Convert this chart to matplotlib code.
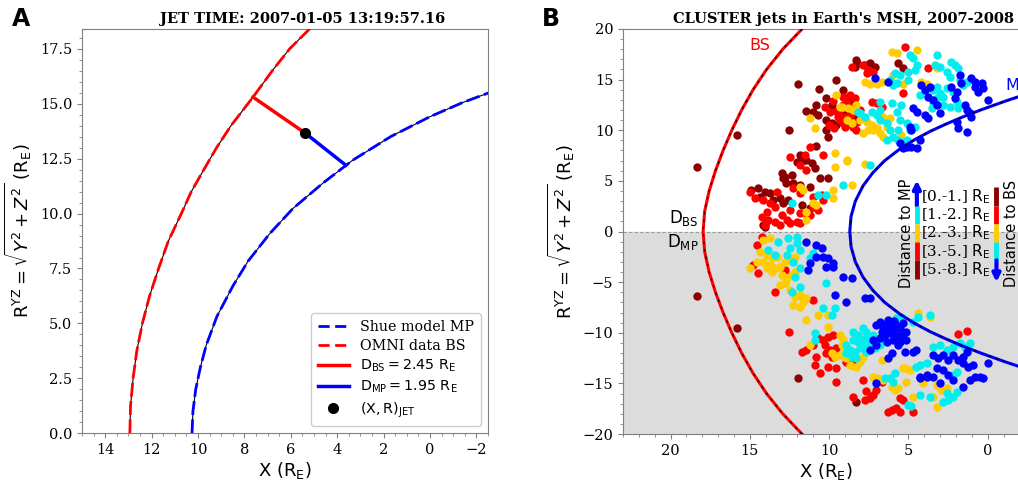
import numpy as np
import matplotlib
matplotlib.use('Agg')
from matplotlib import pyplot as plt
from matplotlib.ticker import MultipleLocator, AutoMinorLocator
from matplotlib.lines import Line2D

plt.rcParams['font.family'] = 'DejaVu Serif'
plt.rcParams['mathtext.fontset'] = 'dejavusans'

# ---------------- Panel A : single jet ----------------
jet_title = 'JET TIME: 2007-01-05 13:19:57.16'
d_bs = 2.45
d_mp = 1.95
jet_xr = (5.38, 13.66)
bs_foot = (7.63, 15.3)
mp_foot = (3.63, 12.2)

# bow shock (OMNI) and magnetopause (Shue) in the X-R plane
bs_a_x = [12.94, 12.91, 12.80, 12.64, 12.40, 12.09, 11.70, 11.28, 10.72, 10.29, 9.75, 9.20, 8.58,
          7.63, 6.80, 6.05, 5.10, 4.20]
bs_a_r = [0.0, 1.25, 2.5, 3.75, 5.0, 6.25, 7.5, 8.75, 10.0, 11.0, 12.0, 13.0, 14.0,
          15.3, 16.5, 17.5, 18.5, 19.5]
mp_a_x = [10.26, 10.22, 10.10, 9.90, 9.65, 9.19, 8.50, 7.84, 6.90, 5.91, 4.60, 3.33, 1.70, 0.0,
          -1.40, -2.75, -3.2]
mp_a_r = [0.0, 1.0, 2.0, 3.0, 4.0, 5.31, 6.70, 7.84, 9.10, 10.23, 11.40, 12.43, 13.50, 14.41,
          15.05, 15.58, 15.75]

# ---------------- Panel B : statistics ----------------
stat_title = "CLUSTER jets in Earth's MSH, 2007-2008"
bins = ['[0.-1.]', '[1.-2.]', '[2.-3.]', '[3.-5.]', '[5.-8.]']
bin_colors = ['#0000ff', '#00eeee', '#ffcc00', '#ff0000', '#8b0000']

bs_b_r = [0, 2, 4, 6, 8, 10, 12, 14, 16, 18, 20, 22]
bs_b_x = [17.95, 17.85, 17.57, 17.17, 16.69, 16.14, 15.52, 14.80, 13.95, 12.93, 11.71, 10.30]
mp_b_r = [0, 1.5, 3.0, 4.5, 5.8, 7.0, 8.2, 9.1, 9.9, 10.6, 11.3, 12.0, 12.9, 13.6, 14.2]
mp_b_x = [8.7, 8.62, 8.35, 7.87, 7.25, 6.50, 5.50, 4.58, 3.62, 2.65, 1.60, 0.45, -1.15, -2.50, -3.75]

jets_0_1 = [(7.12,15.13),(6.28,14.8),(4.18,14.47),(3.97,13.98),(3.65,14.3),(3.76,13.32),(3.44,12.99),
    (3.23,12.5),(3.02,11.67),(3.97,11.51),(3.76,11.18),(4.7,12.17),(4.49,11.84),(2.29,14.3),(1.97,13.81),
    (2.08,13.15),(1.76,15.45),(1.66,14.63),(1.03,15.13),(0.82,14.3),(0.82,14.8),(0.61,13.81),(0.39,14.63),
    (0.29,14.14),(1.45,12.5),(1.34,12.0),(1.13,11.67),(1.03,11.35),(1.97,10.85),(1.34,9.87),(1.87,10.2),
    (-0.02,12.99),(4.91,10.36),(4.81,10.03),(5.54,8.71),(5.12,8.39),(4.81,8.39),(4.49,8.22),(5.33,8.22),
    (4.28,9.04),
    (11.43,-1.0),(10.8,-1.33),(10.48,-1.66),(10.8,-2.48),(10.38,-2.48),(10.06,-2.65),(9.75,-3.14),
    (9.75,-3.47),(11.32,-3.8),(11.22,-3.14),(10.17,-3.47),(9.12,-4.46),(8.59,-4.62),(9.64,-6.27),
    (8.91,-6.92),(7.75,-6.6),(7.44,-6.6),(6.8,-8.9),(6.49,-9.23),(6.28,-8.73),(6.07,-9.06),(5.97,-9.55),
    (5.76,-9.23),(5.55,-9.55),(5.34,-9.06),(5.13,-9.88),(5.65,-10.21),(6.18,-10.05),(6.49,-10.21),
    (6.7,-9.88),(7.02,-9.23),(6.8,-10.54),(6.38,-10.87),(5.97,-10.71),(5.55,-10.87),(5.13,-10.71),
    (4.71,-11.86),(4.5,-11.69),(5.23,-11.86),(7.23,-10.71),(7.02,-11.2),(7.44,-11.69),(6.28,-12.52),
    (6.07,-12.02),(5.65,-11.2),(6.0,-9.8),(5.8,-10.4),(6.3,-9.5),(5.4,-10.3),(6.6,-9.5),(5.9,-8.8),
    (7.02,-14.98),(4.28,-14.32),(3.86,-14.16),(3.44,-12.19),(3.13,-12.52),(2.81,-12.19),(2.5,-12.69),
    (2.18,-12.19),(1.87,-12.69),(1.55,-12.36),(1.34,-11.86),(1.55,-13.01),(1.24,-13.34),(0.92,-13.18),
    (0.5,-14.33),(0.29,-14.5),(0.82,-14.33),(1.13,-14.66),(1.55,-15.32),(2.18,-14.66),(2.5,-14.17),
    (2.81,-13.67),(3.23,-13.51),(3.44,-14.33),(3.86,-14.33),(4.28,-14.5),(3.02,-14.99),(-0.02,-12.95)]

jets_1_2 = [(9.12,4.6),(10.7,3.61),(10.17,3.61),(12.37,2.79),(8.17,11.84),
    (4.91,17.43),(4.7,17.1),(4.49,16.44),(4.6,15.95),(5.02,15.79),(3.23,17.43),(3.34,16.44),(3.02,16.28),
    (2.6,15.79),(2.39,15.3),(2.29,16.77),(2.08,16.44),(1.87,16.11),(5.86,15.62),(5.54,15.45),(6.17,14.96),
    (5.96,14.47),(5.75,14.63),(5.02,14.96),(4.28,13.48),(3.65,14.14),(3.44,13.98),(3.23,14.3),(3.02,13.65),
    (2.81,13.32),(3.23,13.15),(3.44,12.82),(2.6,14.14),(2.18,13.81),(1.97,12.82),(2.81,12.5),(2.39,12.33),
    (1.87,12.17),(3.54,12.17),(1.76,14.96),(1.55,14.47),(1.34,14.8),(8.06,11.67),(7.75,11.35),(7.33,11.84),
    (7.01,11.51),(6.8,11.02),(6.38,10.69),(6.17,10.03),(5.96,9.37),(5.65,9.04),(5.33,8.88),(6.38,9.04),
    (6.8,12.0),(5.75,11.84),(5.54,11.02),(5.12,10.69),(4.91,10.03),(4.6,10.36),(5.44,12.5),(6.07,12.66),
    (6.8,12.82),(5.65,10.03),(5.12,9.04),(7.43,6.57),
    (13.21,-1.0),(12.58,-0.67),(12.06,-0.51),(12.48,-1.66),(11.85,-1.82),(12.06,-1.17),(13.84,-1.82),
    (13.42,-2.32),(12.69,-2.32),(12.27,-2.98),(11.85,-3.63),(12.16,-4.46),(11.85,-5.44),(12.37,-5.94),
    (11.01,-2.15),(11.22,-2.65),(10.17,-5.11),(10.38,-7.58),(9.64,-7.58),(9.85,-8.24),(10.9,-10.05),
    (10.9,-10.71),(8.49,-9.88),(8.17,-10.21),(7.86,-9.55),(7.65,-9.88),(8.49,-10.71),(8.17,-10.87),
    (7.86,-10.71),(7.65,-10.54),(7.23,-10.21),(8.91,-11.2),(8.7,-11.69),(8.38,-11.86),(8.07,-11.53),
    (7.75,-11.36),(7.44,-11.2),(8.91,-12.02),(8.59,-12.35),(8.28,-12.52),(7.65,-11.86),(7.12,-11.53),
    (6.8,-11.2),(5.76,-8.57),(5.44,-8.4),(4.71,-8.9),(4.39,-8.4),(3.65,-8.24),(6.49,-14.49),(6.18,-14.49),
    (5.86,-13.99),(5.97,-14.82),(4.5,-13.34),(4.28,-13.17),(5.02,-17.12),(4.81,-17.28),(3.44,-11.37),
    (3.02,-11.2),(2.6,-11.7),(2.18,-11.37),(1.76,-11.04),(1.45,-11.37),(1.13,-11.04),(3.86,-13.0),
    (2.6,-15.97),(2.18,-16.3),(1.97,-15.81),(2.5,-16.63),(2.81,-16.8),(1.97,-13.84),(2.18,-14.17),
    (4.28,-16.14),(3.65,-16.3)]

jets_2_3 = [(9.54,13.48),(10.9,10.2),(11.22,11.18),(9.64,7.73),(9.64,6.41),(8.9,7.0),(8.59,4.6),(9.75,3.28),
    (11.43,1.15),(11.85,4.44),(11.64,4.11),(11.0,2.8),(10.8,2.6),(11.43,1.97),(9.33,12.33),(8.8,12.17),
    (8.49,12.0),(8.28,12.5),(8.9,11.02),(8.59,10.69),(9.75,4.1),
    (6.07,17.76),(5.75,17.6),(4.49,17.92),(7.75,14.8),(7.43,14.6),(7.01,14.6),(6.7,14.8),(5.96,15.45),
    (4.18,14.8),(3.86,14.6),(3.23,16.1),(5.33,14.6),(9.22,12.33),(8.06,11.02),(7.64,10.85),(7.33,10.53),
    (7.01,10.2),(7.22,10.03),(6.8,9.7),(6.6,9.37),(7.54,10.03),(7.85,9.7),(6.38,10.36),(6.6,11.35),
    (6.17,11.18),(5.44,9.54),(7.75,6.67),(8.9,7.07),
    (14.16,-0.84),(13.74,-0.67),(14.37,-1.99),(13.95,-2.32),(13.63,-2.65),(13.32,-2.48),(14.16,-2.98),
    (13.74,-3.31),(13.42,-3.63),(13.11,-3.47),(12.79,-2.98),(12.58,-2.65),(12.16,-2.48),(13.0,-4.29),
    (12.69,-4.62),(12.37,-4.29),(12.16,-3.96),(13.11,-5.28),(12.79,-5.11),(12.48,-5.77),(12.16,-6.43),
    (11.85,-6.27),(11.64,-6.92),(12.27,-7.25),(11.85,-7.42),(11.43,-6.6),(14.58,-2.98),(15.0,-3.63),
    (13.95,-3.63),(13.63,-3.96),(10.69,-8.24),(10.06,-8.24),(11.43,-8.73),(10.06,-9.39),(11.22,-11.2),
    (9.33,-10.21),(9.12,-10.71),(9.22,-11.2),(9.01,-11.69),(9.33,-12.19),(8.91,-12.52),(8.7,-13.17),
    (8.28,-13.34),(8.07,-12.85),(7.86,-12.35),(9.85,-12.02),(9.64,-12.35),(7.23,-14.32),(6.91,-14.49),
    (6.6,-14.65),(6.07,-15.31),(5.86,-15.64),(5.65,-15.47),(5.23,-13.5),(5.13,-14.82),(4.71,-16.3),
    (4.07,-14.98),(4.39,-8.08),(6.7,-12.68),(3.23,-15.15),(2.92,-15.65),(2.6,-15.48),(3.44,-16.3),
    (3.23,-17.29),(5.34,-13.51),(4.92,-13.67),(3.65,-8.41)]

jets_3_5 = [(8.59,16.28),(10.27,12.33),(9.96,11.84),(9.43,11.35),(9.12,10.69),(8.8,10.85),(8.49,10.36),
    (8.28,10.03),(9.12,12.5),(8.7,12.33),(8.9,11.35),(10.38,7.56),(11.22,8.39),(11.53,7.56),(12.48,7.4),
    (11.85,6.6),(11.43,6.08),(15.0,3.94),(14.68,3.28),(14.16,3.12),(13.74,2.79),(13.42,2.46),(13.95,1.97),
    (14.26,1.48),(13.84,1.15),(13.42,0.98),(13.0,1.64),(12.69,1.15),(12.48,0.82),(12.06,0.98),(11.85,1.8),
    (11.43,1.8),(11.0,2.46),(10.7,2.13),(10.38,3.12),(10.48,3.61),(11.0,3.45),(11.85,3.78),(12.27,4.27),
    (13.32,3.94),(12.48,2.13),(11.85,0.82),(11.22,1.64),(13.11,0.66),(14.05,0.66),(14.26,-0.5),
    (9.75,12.9),(9.6,11.9),(9.3,11.0),(10.0,10.5),(9.7,10.2),(8.65,11.6),(9.4,12.0),
    (7.85,16.44),(7.54,15.95),(7.22,15.79),(7.64,15.62),(5.23,18.25),(5.33,13.65),(3.76,16.11),
    (9.11,13.32),(8.69,13.48),(8.38,13.15),(8.9,12.66),(8.48,12.33),(8.06,12.0),(9.11,11.35),(8.69,11.02),
    (8.27,10.85),(7.96,11.18),(8.48,10.36),(9.0,10.36),(7.01,12.66),(6.7,12.33),(7.33,12.82),
    (14.58,-1.33),(14.79,-3.3),(14.47,-4.13),(13.42,-5.94),(12.79,-3.8),(11.01,-6.76),(12.52,-9.95),
    (11.43,-11.69),(11.74,-11.86),(11.01,-11.2),(10.69,-10.54),(10.38,-10.71),(10.06,-10.38),
    (9.75,-10.21),(10.27,-11.2),(9.96,-11.69),(9.54,-11.53),(10.17,-12.02),(9.85,-12.35),(10.8,-12.35),
    (10.9,-13.17),(10.59,-14.0),(10.06,-13.34),(9.54,-13.5),(9.54,-14.82),(8.91,-12.85),(8.49,-13.17),
    (8.59,-12.68),(7.86,-14.65),(7.65,-15.8),(7.22,-16.13),(7.02,-15.64),(7.44,-16.46),(7.75,-16.63),
    (8.49,-16.3),(6.07,-17.62),(5.76,-17.45),(5.54,-17.78),(6.28,-17.78),(5.34,-16.63),(4.71,-17.78),
    (5.54,-16.46),(6.7,-14.82),(1.87,-10.12),(1.34,-9.79)]

jets_5_8 = [(18.36,6.4),(15.80,9.54),(11.95,14.54),(9.54,14.96),(10.63,14.04),(12.52,10.03),(11.47,11.9),
    (11.0,11.84),(10.7,11.5),(10.8,12.5),(10.17,13.15),(9.85,12.5),(10.17,11.0),(9.85,10.7),(9.54,10.5),
    (10.06,9.37),(10.17,10.0),(8.8,13.15),(8.5,13.0),(8.9,12.2),(8.5,11.8),(8.3,11.5),(10.8,8.4),
    (11.85,7.56),(11.6,7.07),(12.06,6.9),(11.43,7.07),(11.1,6.74),(10.9,6.25),(13.0,5.75),(12.9,5.26),
    (12.7,4.77),(12.8,5.4),(12.37,5.6),(12.3,4.77),(10.59,5.26),(10.06,5.26),(14.9,4.1),(14.5,4.27),
    (14.05,3.94),(13.74,3.78),(14.37,3.45),(13.53,3.12),(13.1,3.3),(12.9,2.8),(12.6,3.1),(13.95,1.0),
    (14.16,0.65),(11.85,4.6),(11.2,4.44),(11.74,2.6),(11.2,2.3),(8.28,16.9),(8.38,16.28),
    (7.75,16.44),(7.43,16.61),(7.12,16.28),(8.27,16.61),(5.65,16.61),(5.33,16.11),(8.9,13.15),
    (8.59,12.82),(9.1,13.98),(9.22,11.35),(9.0,11.5),
    (14.05,0.48),(18.36,-6.37),(15.84,-9.49),(11.95,-14.49),(8.28,-16.79)]

jet_groups = [jets_0_1, jets_1_2, jets_2_3, jets_3_5, jets_5_8]

fig = plt.figure(figsize=(10.18, 4.8), dpi=100)
ax_a = fig.add_axes([0.0806, 0.0973, 0.3988, 0.8423])
ax_b = fig.add_axes([0.6120, 0.0958, 0.3988, 0.8438])

frame_col = '0.5'
ylab = r'$\mathrm{R^{YZ}} = \sqrt{Y^2 + Z^2}$ (R$_\mathrm{E}$)'
xlab = r'X (R$_\mathrm{E}$)'

def style_axes(ax):
    for sp in ax.spines.values():
        sp.set_color(frame_col)
    ax.tick_params(which='both', direction='out', color=frame_col, labelsize=10.5)
    ax.tick_params(which='minor', length=2.5)
    ax.set_xlabel(xlab, family='DejaVu Sans', fontsize=13, labelpad=2)
    ax.set_ylabel(ylab, family='DejaVu Sans', fontsize=13, labelpad=4)

# Panel A
ax_a.plot(bs_a_x, bs_a_r, color='k', lw=0.8, zorder=2)
ax_a.plot(bs_a_x, bs_a_r, color='red', lw=2, dashes=(5, 1.6), zorder=3)
ax_a.plot(mp_a_x, mp_a_r, color='k', lw=0.8, zorder=2)
ax_a.plot(mp_a_x, mp_a_r, color='blue', lw=2, dashes=(5, 1.6), zorder=3)
ax_a.plot([jet_xr[0], bs_foot[0]], [jet_xr[1], bs_foot[1]], color='red', lw=2.5, zorder=4)
ax_a.plot([jet_xr[0], mp_foot[0]], [jet_xr[1], mp_foot[1]], color='blue', lw=2.5, zorder=4)
ax_a.plot(*jet_xr, 'o', color='k', ms=7, zorder=5)

ax_a.set_xlim(15, -2.5)
ax_a.set_ylim(0, 18.4)
ax_a.xaxis.set_major_locator(MultipleLocator(2))
ax_a.xaxis.set_minor_locator(AutoMinorLocator(4))
ax_a.yaxis.set_major_locator(MultipleLocator(2.5))
ax_a.yaxis.set_minor_locator(AutoMinorLocator(5))
style_axes(ax_a)
ax_a.set_title(jet_title, fontsize=10.5, fontweight='bold', x=0.544, pad=4)

handles = [
    Line2D([], [], color='blue', lw=2, dashes=(4, 2), label='Shue model MP'),
    Line2D([], [], color='red', lw=2, dashes=(4, 2), label='OMNI data BS'),
    Line2D([], [], color='red', lw=2.5, label=r'$\mathrm{D_{BS} = %.2f\ R_E}$' % d_bs),
    Line2D([], [], color='blue', lw=2.5, label=r'$\mathrm{D_{MP} = %.2f\ R_E}$' % d_mp),
    Line2D([], [], color='k', marker='o', ms=7, lw=0, label=r'$\mathrm{(X, R)_{JET}}$'),
]
ax_a.legend(handles=handles, loc='lower right', fontsize=10.3, handlelength=2.2,
            borderpad=0.45, labelspacing=0.35, framealpha=1)

# Panel B
ax_b.axhspan(-25, 0, color='#dcdcdc', zorder=0)
ax_b.axhline(0, color='0.6', lw=0.8, ls=(0, (3, 2)), zorder=1)

for pts, col in zip(jet_groups[::-1], bin_colors[::-1]):
    xs, rs = zip(*pts)
    ax_b.scatter(xs, rs, s=36, color=col, linewidths=0, zorder=2)

bs_full_x = bs_b_x[::-1] + bs_b_x[1:]
bs_full_r = [-r for r in bs_b_r[::-1]] + bs_b_r[1:]
mp_full_x = mp_b_x[::-1] + mp_b_x[1:]
mp_full_r = [-r for r in mp_b_r[::-1]] + mp_b_r[1:]
ax_b.plot(bs_full_x, bs_full_r, color='red', lw=2.2, zorder=3)
ax_b.plot(bs_full_x, bs_full_r, color='k', lw=0.9, dashes=(2, 4), zorder=3)
ax_b.plot(mp_full_x, mp_full_r, color='blue', lw=2.2, zorder=3)
ax_b.plot(mp_full_x, mp_full_r, color='k', lw=0.9, dashes=(2, 4), zorder=3)

ax_b.text(14.4, 18.35, 'BS', color='red', fontsize=11.5, family='DejaVu Sans', ha='center', va='center')
ax_b.text(-1.1, 14.45, 'MP', color='blue', fontsize=11.5, family='DejaVu Sans', ha='left', va='center')
ax_b.text(18.25, 1.35, r'$\mathrm{D_{BS}}$', fontsize=12, ha='right', va='center')
ax_b.text(18.25, -1.05, r'$\mathrm{D_{MP}}$', fontsize=12, ha='right', va='center')

# colour key: distance bins to MP (left) and to BS (right)
edges = [4.4, 2.55, 0.75, -1.05, -2.85, -4.65]
x_left, x_right = 4.47, -0.55
ax_b.annotate('', xy=(x_left, 5.05), xytext=(x_left, edges[1]),
              arrowprops=dict(arrowstyle='-|>', color=bin_colors[0], lw=3, mutation_scale=11,
                              shrinkA=0, shrinkB=0), zorder=4)
for i in range(1, 5):
    ax_b.plot([x_left, x_left], [edges[i], edges[i + 1]], color=bin_colors[i], lw=3.5,
              solid_capstyle='butt', zorder=4)
for i in range(4):
    ax_b.plot([x_right, x_right], [edges[i], edges[i + 1]], color=bin_colors[4 - i], lw=3.5,
              solid_capstyle='butt', zorder=4)
ax_b.annotate('', xy=(x_right, -5.0), xytext=(x_right, edges[4]),
              arrowprops=dict(arrowstyle='-|>', color=bin_colors[0], lw=3, mutation_scale=11,
                              shrinkA=0, shrinkB=0), zorder=4)
for i, lab in enumerate(bins):
    yc = 0.5 * (edges[i] + edges[i + 1])
    ax_b.text(4.2, yc, lab + r' $\mathrm{R_E}$', fontsize=11, ha='left', va='center', zorder=4)
ax_b.text(5.12, -0.15, 'Distance to MP', rotation=90, fontsize=10.5, family='DejaVu Sans',
          ha='center', va='center')
ax_b.text(-1.5, -0.15, 'Distance to BS', rotation=90, fontsize=10.5, family='DejaVu Sans',
          ha='center', va='center')

ax_b.set_xlim(23, -2.6)
ax_b.set_ylim(-20, 20)
ax_b.xaxis.set_major_locator(MultipleLocator(5))
ax_b.xaxis.set_minor_locator(AutoMinorLocator(5))
ax_b.yaxis.set_major_locator(MultipleLocator(5))
ax_b.yaxis.set_minor_locator(AutoMinorLocator(5))
style_axes(ax_b)
ax_b.set_title(stat_title, fontsize=10.5, fontweight='bold', x=0.544, pad=4)

fig.text(0.012, 0.945, 'A', fontsize=17, fontweight='bold', family='DejaVu Sans')
fig.text(0.532, 0.945, 'B', fontsize=17, fontweight='bold', family='DejaVu Sans')

fig.savefig('out.png', dpi=100)
